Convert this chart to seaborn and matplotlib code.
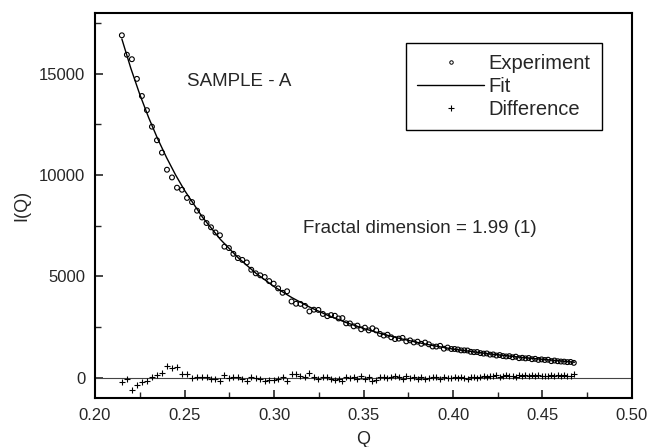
import matplotlib
matplotlib.use('Agg')
import numpy as np
import pandas as pd
import seaborn as sns
import matplotlib.pyplot as plt
from matplotlib.ticker import MultipleLocator
from matplotlib.lines import Line2D

# Scattering vector Q of the measured points
q_exp = [0.215, 0.2178, 0.2206, 0.2234, 0.2262, 0.229, 0.2318, 0.2346, 0.2374, 0.2402,
         0.243, 0.2458, 0.2486, 0.2514, 0.2542, 0.257, 0.2598,
         0.2623, 0.2648, 0.2673, 0.2698, 0.2723, 0.2748, 0.2773, 0.2798, 0.2823, 0.2848,
         0.2873, 0.2898, 0.2923, 0.2948, 0.2973, 0.2998, 0.3023, 0.3048, 0.3073, 0.3098,
         0.3123, 0.3148, 0.3173, 0.3198, 0.3223, 0.3248, 0.3273, 0.3298,
         0.3319, 0.334, 0.3361, 0.3382, 0.3403, 0.3424, 0.3445, 0.3466, 0.3487, 0.3508,
         0.3529, 0.355, 0.3571, 0.3592, 0.3613, 0.3634, 0.3655, 0.3676, 0.3697, 0.3718,
         0.3739, 0.376, 0.3781, 0.3802, 0.3823, 0.3844, 0.3865, 0.3886, 0.3907, 0.3928,
         0.3949, 0.397, 0.3991,
         0.4009, 0.4027, 0.4045, 0.4063, 0.4081, 0.4099, 0.4117, 0.4135, 0.4153, 0.4171,
         0.4189, 0.4207, 0.4225, 0.4243, 0.4261, 0.4279, 0.4297, 0.4315, 0.4333, 0.4351,
         0.4369, 0.4387, 0.4405, 0.4423, 0.4441, 0.4459, 0.4477, 0.4495, 0.4513, 0.4531,
         0.4549, 0.4567, 0.4585, 0.4603, 0.4621, 0.4639, 0.4657, 0.4675]

# Measured intensity I(Q)
i_exp = [16900, 15940, 15720, 14750, 13905, 13205, 12390, 11720, 11110, 10266,
         9885, 9379, 9278, 8875, 8670, 8245, 7910,
         7635, 7425, 7170, 7030, 6470, 6400, 6115, 5905, 5815, 5690,
         5330, 5153, 5055, 4970, 4770, 4643, 4410, 4192, 4267, 3764,
         3652, 3643, 3547, 3272, 3358, 3347, 3147, 3039,
         3093, 3059, 2926, 2944, 2685, 2680, 2537, 2573, 2391, 2472,
         2336, 2441, 2337, 2162, 2082, 2124, 1996, 1908, 1931, 1968,
         1796, 1844, 1742, 1781, 1673, 1737, 1650, 1543, 1538, 1575,
         1433, 1490, 1418,
         1420, 1395, 1350, 1352, 1345, 1280, 1262, 1270, 1215, 1190,
         1200, 1140, 1150, 1095, 1120, 1070, 1050, 1065, 1010, 1040,
         965, 985, 955, 975, 915, 935, 880, 905, 875, 890,
         820, 850, 815, 800, 795, 770, 780, 735]

# Difference between fit and experiment
i_diff = [-200, -60, -600, -360, -200, -150, 60, 150, 230, 560,
          460, 510, 180, 180, 0, 50, 20,
          30, -40, -60, -180, 140, -20, 40, 30, -80, -150,
          20, 10, -60, -140, -100, -130, -40, 40, -170, 200,
          190, 80, 60, 220, 30, -60, 40, 50,
          -80, -120, -60, -150, 40, -20, 60, -40, 80, -60,
          20, -140, -90, 30, 60, -30, 50, 90, 20, -60,
          70, -20, 40, -40, 30, -70, -20, 50, 20, -50,
          60, -30, 10,
          20, -30, 40, 10, -60, 30, 60, 0, 50, 90,
          40, 110, 70, 120, 60, 100, 130, 80, 110, 60,
          140, 100, 120, 70, 130, 90, 150, 100, 110, 80,
          140, 90, 120, 100, 130, 90, 110, 170]

# Fitted curve
q_fit = [0.215, 0.22, 0.225, 0.23, 0.235, 0.24, 0.245, 0.25, 0.26, 0.27, 0.28, 0.29,
         0.30, 0.31, 0.32, 0.33, 0.34, 0.35, 0.36, 0.37, 0.38, 0.39, 0.40, 0.42,
         0.44, 0.46, 0.468]
i_fit = [16718, 15274, 13986, 12831, 11793, 10860, 10011, 9249, 7927, 6831, 5919, 5149,
         4500, 3953, 3483, 3081, 2734, 2433, 2172, 1945, 1745, 1569, 1415, 1180,
         990, 830, 766]

exp_df = pd.DataFrame({'Q': q_exp, 'I': i_exp, 'diff': i_diff})
fit_df = pd.DataFrame({'Q': q_fit, 'I': i_fit})

sns.set_theme(style='ticks')
plt.rcParams['font.family'] = ['Liberation Sans', 'DejaVu Sans']

fig = plt.figure(figsize=(6.49, 4.47), dpi=100)
ax = fig.add_axes([0.1464, 0.1096, 0.8274, 0.8613])

ax.axhline(0, color='#444444', lw=0.8, zorder=1)
sns.lineplot(data=fit_df, x='Q', y='I', ax=ax, color='black', lw=1.0, zorder=2)
sns.scatterplot(data=exp_df, x='Q', y='I', ax=ax, marker='o', s=12,
                facecolor='none', edgecolor='black', linewidth=0.8, zorder=3)
sns.scatterplot(data=exp_df, x='Q', y='diff', ax=ax, marker='+', s=22,
                color='black', linewidth=0.8, zorder=3)

ax.set_xlim(0.20, 0.50)
ax.set_ylim(-1000, 18000)
ax.xaxis.set_major_locator(MultipleLocator(0.05))
ax.xaxis.set_minor_locator(MultipleLocator(0.025))
ax.yaxis.set_major_locator(MultipleLocator(5000))
ax.yaxis.set_minor_locator(MultipleLocator(2500))
ax.xaxis.set_major_formatter(plt.FuncFormatter(lambda v, p: f'{v:.2f}'))
ax.tick_params(which='major', direction='in', length=6, width=1.2, labelsize=12,
               top=False, right=False, pad=7)
ax.tick_params(which='minor', direction='in', length=4, width=1.0, top=False, right=False)
for s in ax.spines.values():
    s.set_linewidth(1.5)
    s.set_color('black')

ax.set_xlabel('Q', fontsize=13, labelpad=6)
ax.set_ylabel('I(Q)', fontsize=13, labelpad=6)

ax.text(0.2514, 14600, 'SAMPLE - A', fontsize=13.5, va='center', ha='left')
ax.text(0.3162, 7376, 'Fractal dimension = 1.99 (1)', fontsize=13.5, va='center', ha='left')

handles = [
    Line2D([], [], marker='o', ls='none', markersize=2.5, markerfacecolor='none',
           markeredgecolor='black', markeredgewidth=0.7),
    Line2D([], [], color='black', lw=1.0),
    Line2D([], [], marker='+', ls='none', markersize=4, color='black', markeredgewidth=0.8),
]
leg = ax.legend(handles, ['Experiment', 'Fit', 'Difference'], loc='upper right',
                bbox_to_anchor=(0.944, 0.922), borderaxespad=0, fontsize=14.5,
                frameon=True, fancybox=False, edgecolor='black', framealpha=1,
                handlelength=3.3, handletextpad=0.25, labelspacing=0.2,
                borderpad=0.55)
leg.get_frame().set_linewidth(1.0)

plt.savefig('out.png', dpi=100)
